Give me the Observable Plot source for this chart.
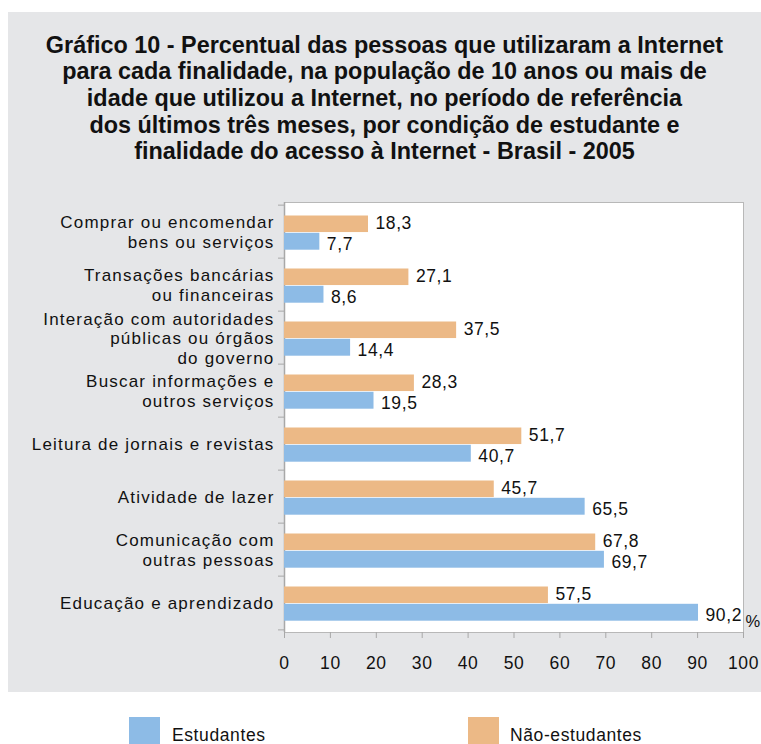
<!DOCTYPE html>
<html>
<head>
<meta charset="utf-8">
<script src="https://cdn.jsdelivr.net/npm/d3@7"></script>
<script src="https://cdn.jsdelivr.net/npm/@observablehq/plot@0.6"></script>
<style>
  html, body { margin: 0; padding: 0; background: #fff; }
  body { width: 761px; height: 744px; position: relative; overflow: hidden; font-family: "Liberation Sans", Arial, sans-serif; }
  #panel { position: absolute; left: 8px; top: 12px; width: 753px; height: 680px; background: #e5e6e8; }
  #title { position: absolute; left: 8px; width: 753px; top: 31.5px; text-align: center;
    font-family: "Liberation Sans", Arial, sans-serif; font-weight: bold; font-size: 23.4px; line-height: 26.7px; color: #111; }
  #chart { position: absolute; left: 0; top: 190px; }
  .leg { position: absolute; top: 717px; width: 31px; height: 31px; }
  .legt { position: absolute; top: 725px; font-size: 17.5px; letter-spacing: 0.6px; color: #111; }
</style>
</head>
<body>
<div id="panel"></div>
<div id="title">Gráfico 10 - Percentual das pessoas que utilizaram a Internet<br>para cada finalidade, na população de 10 anos ou mais de<br>idade que utilizou a Internet, no período de referência<br>dos últimos três meses, por condição de estudante e<br>finalidade do acesso à Internet - Brasil - 2005</div>
<div id="chart"></div>
<div class="leg" id="legB" style="left:129px"></div><div class="legt" id="legBt" style="left:172px"></div>
<div class="leg" id="legO" style="left:468px"></div><div class="legt" id="legOt" style="left:510px"></div>
<script>
const categories = [
  "Comprar ou encomendar\nbens ou serviços",
  "Transações bancárias\nou financeiras",
  "Interação com autoridades\npúblicas ou órgãos\ndo governo",
  "Buscar informações e\noutros serviços",
  "Leitura de jornais e revistas",
  "Atividade de lazer",
  "Comunicação com\noutras pessoas",
  "Educação e aprendizado"
];
const estudantes = [7.7, 8.6, 14.4, 19.5, 40.7, 65.5, 69.7, 90.2];
const naoEstudantes = [18.3, 27.1, 37.5, 28.3, 51.7, 45.7, 67.8, 57.5];
const xTicks = [0, 10, 20, 30, 40, 50, 60, 70, 80, 90, 100];
const seriesNames = ["Estudantes", "Não-estudantes"];
const blue = "#8dbbe6";
const orange = "#ecb986";

document.getElementById("legB").style.background = blue;
document.getElementById("legO").style.background = orange;
document.getElementById("legBt").textContent = seriesNames[0];
document.getElementById("legOt").textContent = seriesNames[1];

const rows = categories.map((c, i) => ({cat: c, est: estudantes[i], nao: naoEstudantes[i]}));
const fmt = v => v.toFixed(1).replace(".", ",");

const H = 492, MT = 12, MB = 50;
const band = (H - MT - MB) / categories.length;

const chart = Plot.plot({
  width: 761,
  height: H,
  marginTop: MT,
  marginBottom: MB,
  marginLeft: 284,
  marginRight: 18,
  style: {fontFamily: "'Liberation Sans', Arial, sans-serif", fontSize: "17.5px", color: "#111", background: "transparent", letterSpacing: "0.6px"},
  x: {domain: [0, 100], label: null},
  y: {domain: categories, padding: 0, label: null},
  marks: [
    Plot.frame({fill: "white", stroke: "#b8b8b8"}),
    Plot.ruleX([0], {stroke: "#a8a8a8", strokeWidth: 1.5}),
    Plot.barX(rows, {y: "cat", x: "nao", fill: orange, insetTop: 10.5, insetBottom: band - 27.8}),
    Plot.barX(rows, {y: "cat", x: "est", fill: blue, insetTop: 27.8, insetBottom: 8.3}),
    Plot.text(rows, {y: "cat", x: "nao", text: d => fmt(d.nao), dx: 7, dy: -8.8, textAnchor: "start", fill: "#111"}),
    Plot.text(rows, {y: "cat", x: "est", text: d => fmt(d.est), dx: 7, dy: 12.6, textAnchor: "start", fill: "#111"}),
    Plot.axisX({ticks: xTicks, tickSize: 6, tickPadding: 18, tickFormat: d => String(d), stroke: "#a8a8a8", fill: "#111"}),
    Plot.axisY({tickSize: 0, tickPadding: 10, lineHeight: 1.15, fontSize: 17, fill: "#111"}),
    Plot.axisY({tickSize: 6, fill: "none", stroke: "#a8a8a8", dy: -band / 2}),
    Plot.axisY([categories[categories.length - 1]], {tickSize: 6, fill: "none", stroke: "#a8a8a8", dy: band / 2}),
    Plot.text(["%"], {frameAnchor: "bottom-right", dx: 2, dy: -6, textAnchor: "start", lineAnchor: "bottom", fill: "#111", fontSize: 16.5})
  ]
});
// widen letter spacing of the category labels (left axis text)
chart.querySelectorAll("g[aria-label='y-axis tick label']").forEach(g => g.setAttribute("letter-spacing", "1.2px"));
document.getElementById("chart").appendChild(chart);
</script>
</body>
</html>
